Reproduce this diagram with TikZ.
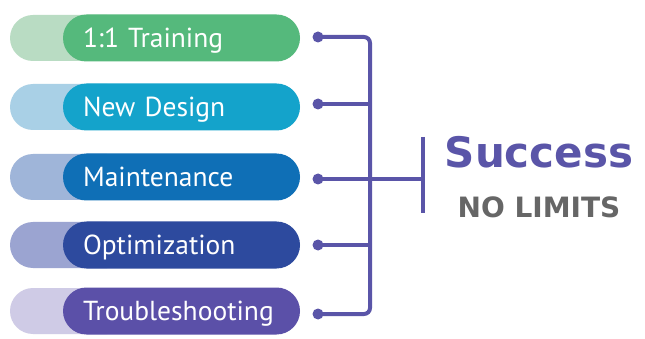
\documentclass[tikz,border=0pt]{standalone}
\usepackage{fontspec}
\setmainfont{PT Sans}
\newfontfamily\titlefont{DejaVu Sans}
\usepackage{xcolor}
\definecolor{wireviolet}{HTML}{5A55A8}
\definecolor{textgray}{HTML}{666666}
\definecolor{greenfront}{HTML}{55B97C}
\definecolor{greenback}{HTML}{B9DCC3}
\definecolor{tealfront}{HTML}{14A3CB}
\definecolor{tealback}{HTML}{A9D0E6}
\definecolor{bluefront}{HTML}{0F6FB6}
\definecolor{blueback}{HTML}{9FB5D9}
\definecolor{navyfront}{HTML}{2D4A9E}
\definecolor{navyback}{HTML}{9BA4D1}
\definecolor{violetfront}{HTML}{5B50A8}
\definecolor{violetback}{HTML}{CFCBE6}

\tikzset{
  backpill/.style={minimum width=120pt, minimum height=46pt, rounded corners=23pt, inner sep=0pt},
  frontpill/.style={minimum width=237pt, minimum height=47pt, rounded corners=23.5pt, inner sep=0pt,
    text=white, font=\fontsize{27.5}{27.5}\selectfont, align=left, text width=197pt,
    text height=19pt, text depth=0pt},
  enddot/.style={circle, fill=wireviolet, minimum size=11pt, inner sep=0pt},
  wire/.style={draw=wireviolet, line width=4pt}
}

\begin{document}
\begin{tikzpicture}[x=1pt, y=-1pt]
                \useasboundingbox (0,0) rectangle (645,339);
                \fill[white] (0,0) rectangle (645,339);
                % back pills
                \node[backpill, fill=greenback] (b1) at (70,38) {};
                \node[backpill, fill=tealback] (b2) at (70,107) {};
                \node[backpill, fill=blueback] (b3) at (70,177) {};
                \node[backpill, fill=navyback] (b4) at (70,245) {};
                \node[backpill, fill=violetback] (b5) at (70,311) {};
                % front pills
                \node[frontpill, fill=greenfront] (p1) at (181.5,38) {1:1 Training};
                \node[frontpill, fill=tealfront] (p2) at (181.5,107) {New Design};
                \node[frontpill, fill=bluefront] (p3) at (181.5,177) {Maintenance};
                \node[frontpill, fill=navyfront] (p4) at (181.5,245) {Optimization};
                \node[frontpill, fill=violetfront] (p5) at (181.5,311) {Troubleshooting};
                % dots
                \node[enddot] (d1) at (318,37) {};
                \node[enddot] (d2) at (318,104) {};
                \node[enddot] (d3) at (318,179) {};
                \node[enddot] (d4) at (318,245) {};
                \node[enddot] (d5) at (318,314) {};
                \coordinate (bus) at (370,0);
                \coordinate (ticktop) at (423,137);
                \coordinate (tickbot) at (423,213);
                % connectors
                \draw[wire, rounded corners=6pt] (d1.center) -- (d1 -| bus) -- (d5 -| bus) -- (d5.center);
                \draw[wire] (d2.center) -- (d2 -| bus);
                \draw[wire] (d4.center) -- (d4 -| bus);
                \draw[wire] (d3.center) -- (d3 -| ticktop);
                \draw[wire] (ticktop) -- (tickbot);
                % title
                \node[anchor=base, text=wireviolet, font=\titlefont\bfseries\fontsize{42}{42}\selectfont, inner sep=0pt]
                (title) at (539,168) {Success};
                \node[anchor=base, text=textgray, font=\titlefont\bfseries\fontsize{28}{28}\selectfont, inner sep=0pt]
                (subtitle) at (539,218) {NO LIMITS};
            \end{tikzpicture}
\end{document}
